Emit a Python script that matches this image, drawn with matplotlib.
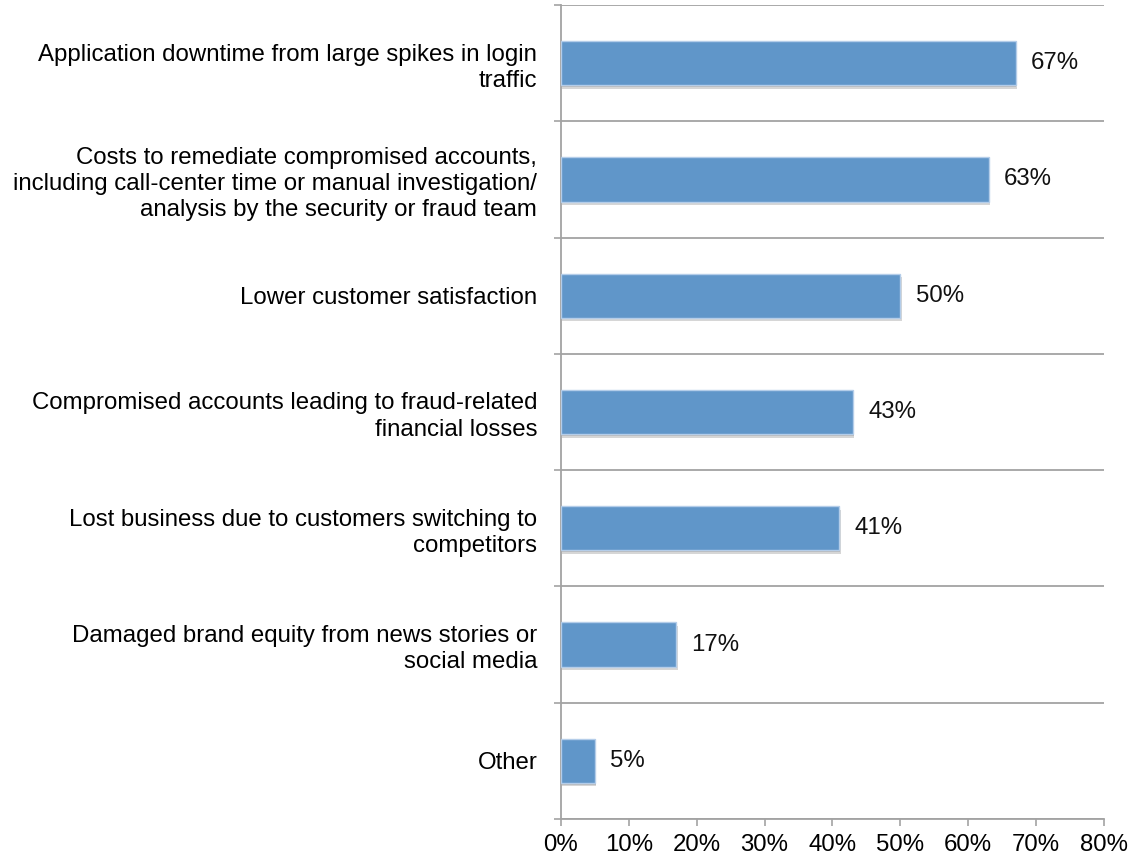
import matplotlib.pyplot as plt
import matplotlib.patheffects as pe
import numpy as np

# --- Data ---
CATEGORIES = [
    "Application downtime from large spikes in login\ntraffic",
    "Costs to remediate compromised accounts,\nincluding call-center time or manual investigation/\nanalysis by the security or fraud team",
    "Lower customer satisfaction",
    "Compromised accounts leading to fraud-related\nfinancial losses",
    "Lost business due to customers switching to\ncompetitors",
    "Damaged brand equity from news stories or\nsocial media",
    "Other",
]
VALUES = [67, 63, 50, 43, 41, 17, 5]
X_TICKS = [0, 10, 20, 30, 40, 50, 60, 70, 80]

BAR_COLOR = "#6096c9"
EDGE_COLOR = "#b4cde9"
GRID_COLOR = "#a3a3a3"
FS = 17.3

plt.rcParams["font.family"] = ["Liberation Sans", "DejaVu Sans"]

fig = plt.figure(figsize=(11.33, 8.63), dpi=100)
ax = fig.add_axes([0.4951, 0.051, 0.4793, 0.9432])

y = np.arange(len(CATEGORIES))
bars = ax.barh(y, VALUES, height=0.38, color=BAR_COLOR, edgecolor=EDGE_COLOR,
               linewidth=1.0, zorder=3)
for b in bars:
    b.set_path_effects([
        pe.SimplePatchShadow(offset=(1, -2.5), shadow_rgbFace="#8a8a8a", alpha=0.35),
        pe.SimplePatchShadow(offset=(0.5, -1.2), shadow_rgbFace="#8a8a8a", alpha=0.35),
        pe.Normal(),
    ])

for yi, v in zip(y, VALUES):
    ax.annotate(f"{v}%", xy=(v, yi), xytext=(11, 0), textcoords="offset points",
                ha="left", va="center", fontsize=FS, color="#111111")

ax.set_xlim(0, 80)
ax.set_ylim(len(CATEGORIES) - 0.5, -0.5)

ax.set_xticks(X_TICKS)
ax.set_xticklabels([f"{t}%" for t in X_TICKS], fontsize=FS)
ax.tick_params(axis="x", direction="out", length=5, width=1.2, color=GRID_COLOR,
               pad=6)

ax.set_yticks(y)
ax.set_yticklabels(CATEGORIES, fontsize=FS, ha="right", linespacing=1.25)
ax.tick_params(axis="y", which="major", length=0, pad=17)

# category boundaries: gridlines with short outward ticks
bounds = np.arange(-0.5, len(CATEGORIES) + 0.5, 1.0)
ax.set_yticks(bounds, minor=True)
ax.tick_params(axis="y", which="minor", length=5, width=1.2, color=GRID_COLOR)
ax.grid(axis="y", which="minor", color=GRID_COLOR, linewidth=1.3, zorder=1)
ax.grid(axis="x", visible=False)

for side in ("top", "right"):
    ax.spines[side].set_visible(False)
for side in ("left", "bottom"):
    ax.spines[side].set_color(GRID_COLOR)
    ax.spines[side].set_linewidth(1.3)

fig.savefig("out.png", dpi=100)
